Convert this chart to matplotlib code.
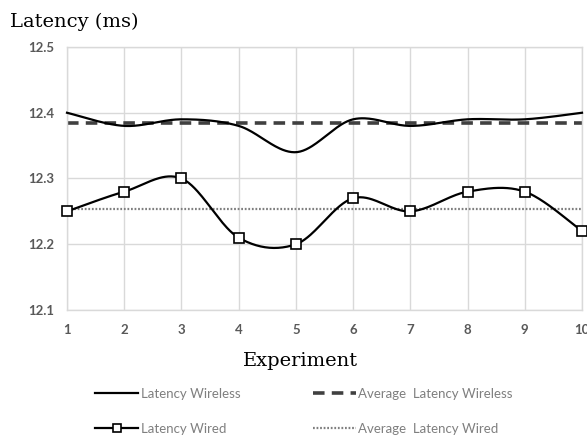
import numpy as np
import matplotlib
matplotlib.use("Agg")
import matplotlib.pyplot as plt
from matplotlib.lines import Line2D

experiments = [1, 2, 3, 4, 5, 6, 7, 8, 9, 10]
latency_wireless = [12.40, 12.38, 12.39, 12.38, 12.34, 12.39, 12.38, 12.39, 12.39, 12.40]
latency_wired = [12.25, 12.28, 12.30, 12.21, 12.20, 12.27, 12.25, 12.28, 12.28, 12.22]
avg_wireless = float(np.mean(latency_wireless))
avg_wired = float(np.mean(latency_wired))
y_ticks = [12.1, 12.2, 12.3, 12.4, 12.5]


def smooth(x, y, n=40):
    """Excel-like smoothed line (Catmull-Rom style Bezier) through the points."""
    x = np.asarray(x, float)
    y = np.asarray(y, float)
    P = np.column_stack([x, y])
    out = []
    for i in range(len(P) - 1):
        p0 = P[i - 1] if i > 0 else P[i]
        p1 = P[i]
        p2 = P[i + 1]
        p3 = P[i + 2] if i + 2 < len(P) else P[i + 1]
        c1 = p1 + (p2 - p0) / 6.0
        c2 = p2 - (p3 - p1) / 6.0
        t = np.linspace(0, 1, n)[:, None]
        seg = ((1 - t) ** 3) * p1 + 3 * ((1 - t) ** 2) * t * c1 + 3 * (1 - t) * t ** 2 * c2 + t ** 3 * p2
        out.append(seg if i == 0 else seg[1:])
    S = np.vstack(out)
    return S[:, 0], S[:, 1]


fig = plt.figure(figsize=(5.87, 4.36), dpi=100)
ax = fig.add_axes([67 / 587, 1 - 310 / 436, (582 - 67) / 587, (310 - 47) / 436])

grid_c = "#d9d9d9"
ax.set_xlim(1, 10)
ax.set_ylim(12.1, 12.5)
ax.set_xticks(experiments)
ax.set_yticks(y_ticks)
ax.grid(True, color=grid_c, linewidth=1.0)
ax.set_axisbelow(True)
for s in ax.spines.values():
    s.set_color(grid_c)
    s.set_linewidth(1.0)
ax.tick_params(length=0, labelsize=9.5, labelcolor="#595959")
ax.tick_params(axis="y", pad=9)
ax.tick_params(axis="x", pad=10)
for lab in ax.get_xticklabels() + ax.get_yticklabels():
    lab.set_fontfamily("Lato")
    lab.set_fontweight("bold")

# averages
ax.axhline(avg_wireless, color="#404040", linewidth=2.6, linestyle=(0, (3.2, 2.0)), zorder=2)
ax.axhline(avg_wired, color="#7f7f7f", linewidth=1.6, linestyle=(0, (0.8, 0.8)), zorder=2)

# wireless smooth line
sx, sy = smooth(experiments, latency_wireless)
ax.plot(sx, sy, color="black", linewidth=1.6, zorder=3, clip_on=False)

# wired smooth line with markers
wx, wy = smooth(experiments, latency_wired)
ax.plot(wx, wy, color="black", linewidth=1.6, zorder=3, clip_on=False)
ax.plot(experiments, latency_wired, linestyle="none", marker="s", markersize=6.5,
        markerfacecolor="white", markeredgecolor="black", markeredgewidth=1.2,
        zorder=4, clip_on=False)

fig.text(10 / 587, 1 - 22 / 436, "Latency (ms)", fontsize=14, family="DejaVu Serif",
         ha="left", va="center", color="black")
fig.text(301 / 587, 1 - 361 / 436, "Experiment", fontsize=14, family="DejaVu Serif",
         ha="center", va="center", color="black")

handles = [
    Line2D([], [], color="black", linewidth=1.6),
    Line2D([], [], color="black", linewidth=1.6, marker="s", markersize=6,
           markerfacecolor="white", markeredgecolor="black", markeredgewidth=1.2),
    Line2D([], [], color="#404040", linewidth=2.6, linestyle=(0, (3.2, 2.0))),
    Line2D([], [], color="#7f7f7f", linewidth=1.6, linestyle=(0, (0.8, 0.8))),
]
labels = ["Latency Wireless", "Latency Wired", "Average  Latency Wireless", "Average  Latency Wired"]
leg = fig.legend(handles, labels, ncol=2, loc="upper left",
                 bbox_to_anchor=(95 / 587, 1 - 388 / 436), frameon=False,
                 prop={"family": "Lato", "size": 9.5}, handlelength=3.26, handletextpad=0.2,
                 columnspacing=5.5, labelspacing=1.75, borderpad=0, borderaxespad=0)
for t in leg.get_texts():
    t.set_color("#7f7f7f")

fig.savefig("out.png", dpi=100)
